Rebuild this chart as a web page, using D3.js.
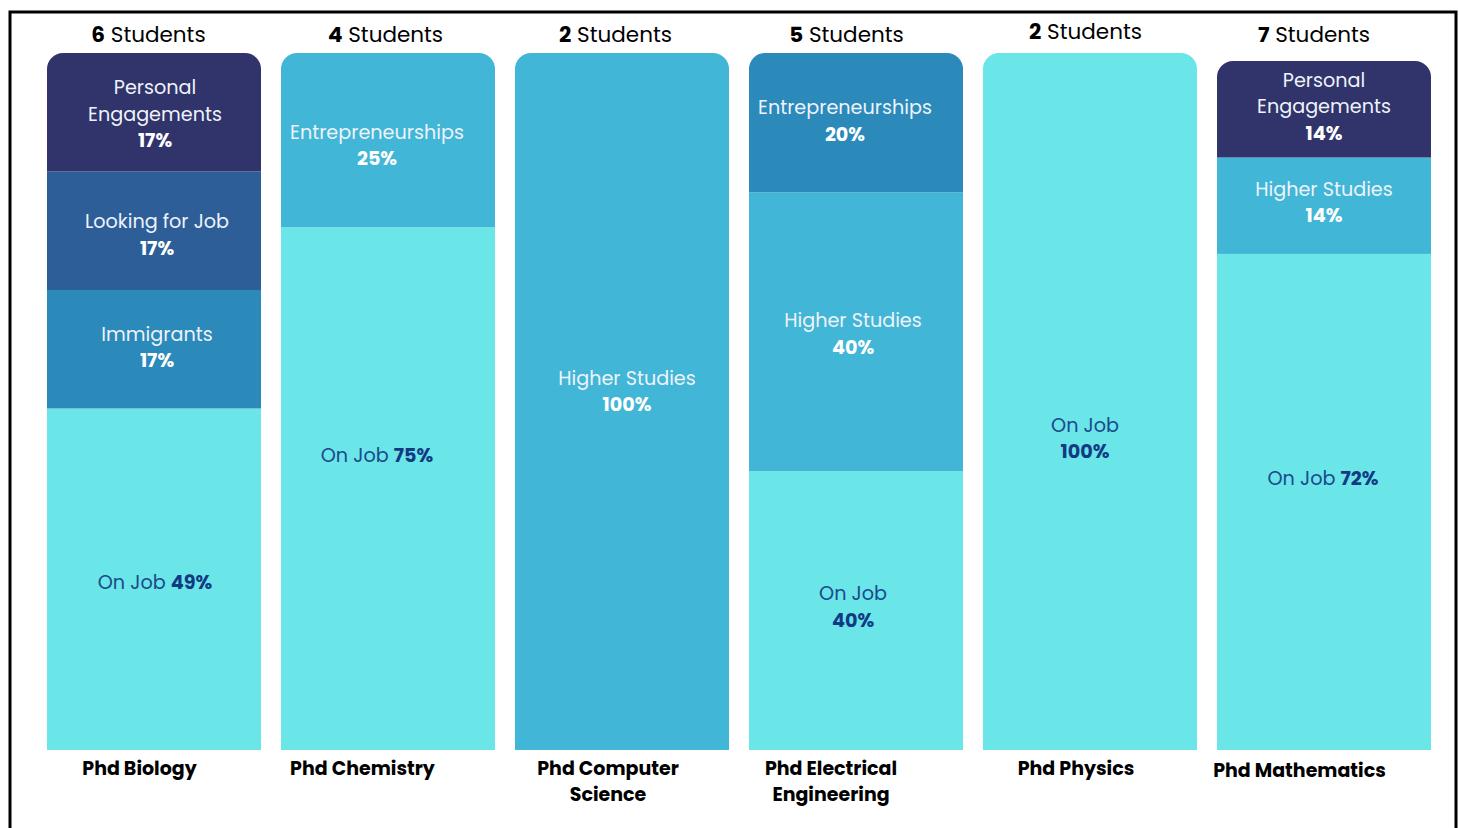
<!DOCTYPE html>
<html><head><meta charset="utf-8">
<script src="https://cdn.jsdelivr.net/npm/d3@7"></script>
<style>
html,body{margin:0;padding:0;background:#fff;}
svg{display:block;font-family:"Poppins","Open Sans","Noto Sans",sans-serif;}
</style></head>
<body>
<svg id="chart" width="1459" height="828"></svg>
<script>
// ---- data ----
const categories = ["Phd Biology", "Phd Chemistry", "Phd Computer Science", "Phd Electrical Engineering", "Phd Physics", "Phd Mathematics"];
const categoryLines = [["Phd Biology"], ["Phd Chemistry"], ["Phd Computer", "Science"], ["Phd Electrical", "Engineering"], ["Phd Physics"], ["Phd Mathematics"]];
const students = [6, 4, 2, 5, 2, 7];
const segmentKeys = ["On Job", "Higher Studies", "Entrepreneurships", "Immigrants", "Looking for Job", "Personal Engagements"];
const onJob = [49, 75, 0, 40, 100, 72];
const higherStudies = [0, 0, 100, 40, 0, 14];
const entrepreneurships = [0, 25, 0, 20, 0, 0];
const immigrants = [17, 0, 0, 0, 0, 0];
const lookingForJob = [17, 0, 0, 0, 0, 0];
const personalEngagements = [17, 0, 0, 0, 0, 14];
const seriesValues = {"On Job": onJob, "Higher Studies": higherStudies, "Entrepreneurships": entrepreneurships,
  "Immigrants": immigrants, "Looking for Job": lookingForJob, "Personal Engagements": personalEngagements};

// ---- styles ----
const palette = {"On Job": "#6ae5e8", "Higher Studies": "#42b6d6", "Entrepreneurships": "#42b6d6",
  "Immigrants": "#2b8aba", "Looking for Job": "#2d5e97", "Personal Engagements": "#31346a"};
const colorOverride = {"Phd Electrical Engineering|Entrepreneurships": "#2b8aba"};
const nameLines = {"Personal Engagements": ["Personal", "Engagements"]};
const onJobTwoLines = {"Phd Electrical Engineering": true, "Phd Physics": true};
const barTopInset = {"Phd Mathematics": 8};
const labelNudge = {
  "Phd Biology|Personal Engagements": [1, 2], "Phd Biology|Looking for Job": [3, 4],
  "Phd Biology|Immigrants": [3, -2], "Phd Biology|On Job": [1, 3],
  "Phd Chemistry|Entrepreneurships": [-11, 5], "Phd Chemistry|On Job": [-11, -33],
  "Phd Computer Science|Higher Studies": [5, -10],
  "Phd Electrical Engineering|Entrepreneurships": [-11, -2], "Phd Electrical Engineering|Higher Studies": [-3, 2],
  "Phd Electrical Engineering|On Job": [-3, -4],
  "Phd Physics|On Job": [-5, 37],
  "Phd Mathematics|Personal Engagements": [0, -2.5], "Phd Mathematics|Higher Studies": [0, -3.5],
  "Phd Mathematics|On Job": [-1, -24]
};
const studentNudge = [[-5.5, 0], [-2.5, 0], [-6.5, 0], [-9.5, 0], [-4.5, -3], [-10, 0]];
const categoryNudge = [[-14.5, 0], [-25.5, 0], [-14, 0], [-25, 0], [-14, 0], [-24.5, 2]];

const table = categories.map((c, i) => {
  const row = {category: c};
  segmentKeys.forEach(k => row[k] = seriesValues[k][i]);
  return row;
});

const svg = d3.select("#chart");
const x = d3.scaleBand().domain(categories).range([47, 1431]).paddingInner(20 / 234).paddingOuter(0);
const yBase = d3.scaleLinear().domain([0, 100]).range([750, 53]);
const yFor = c => yBase.copy().range([750, 53 + (barTopInset[c] || 0)]);
const stacked = d3.stack().keys(segmentKeys)(table);

// frame
svg.append("path").attr("d", "M10,840 L10,12 L1456,12 L1456,840")
  .attr("fill", "none").attr("stroke", "#000").attr("stroke-width", 3);

const defs = svg.append("defs");
categories.forEach((c, i) => {
  const y = yFor(c);
  defs.append("clipPath").attr("id", "clip" + i).append("rect")
    .attr("x", x(c)).attr("y", y(100)).attr("width", x.bandwidth())
    .attr("height", y(0) - y(100) + 30).attr("rx", 16).attr("ry", 16);
});

const bars = svg.append("g");
stacked.forEach(layer => {
  layer.forEach((d, i) => {
    if (d[1] - d[0] <= 0) return;
    const c = categories[i];
    const y = yFor(c);
    bars.append("rect").attr("clip-path", `url(#clip${i})`)
      .attr("x", x(c)).attr("width", x.bandwidth())
      .attr("y", y(d[1])).attr("height", y(d[0]) - y(d[1]))
      .attr("fill", colorOverride[c + "|" + layer.key] || palette[layer.key]);
  });
});

// segment labels
const labels = svg.append("g").attr("text-anchor", "middle");
const lineH = 26.5;
const fs = 19.2;
stacked.forEach(layer => {
  layer.forEach((d, i) => {
    const v = d[1] - d[0];
    if (v <= 0) return;
    const c = categories[i];
    const y = yFor(c);
    const nudge = labelNudge[c + "|" + layer.key] || [0, 0];
    const cx = x(c) + x.bandwidth() / 2 + nudge[0];
    const cy = (y(d[0]) + y(d[1])) / 2 + nudge[1];
    const isJob = layer.key === "On Job";
    const nameColor = isJob ? "#1b4a8c" : "#eef3fb";
    const pctColor = isJob ? "#113a83" : "#ffffff";
    if (isJob && !onJobTwoLines[c]) {
      const t = labels.append("text").attr("x", cx).attr("y", cy).attr("dy", "0.35em")
        .attr("font-size", fs);
      t.append("tspan").attr("fill", nameColor).text("On Job ");
      t.append("tspan").attr("fill", pctColor).attr("font-weight", 700).text(v + "%");
      return;
    }
    const lines = (nameLines[layer.key] || [layer.key]);
    const n = lines.length + 1;
    const y0 = cy - (n - 1) * lineH / 2;
    lines.forEach((ln, j) => {
      labels.append("text").attr("x", cx).attr("y", y0 + j * lineH).attr("dy", "0.35em")
        .attr("font-size", fs).attr("fill", nameColor).text(ln);
    });
    labels.append("text").attr("x", cx).attr("y", y0 + lines.length * lineH).attr("dy", "0.35em")
      .attr("font-size", fs).attr("font-weight", 700).attr("fill", pctColor).text(v + "%");
  });
});

// student counts
categories.forEach((c, i) => {
  const t = svg.append("text").attr("x", x(c) + x.bandwidth() / 2 + studentNudge[i][0])
    .attr("y", 34 + studentNudge[i][1]).attr("dy", "0.35em")
    .attr("text-anchor", "middle").attr("font-size", 21.5).attr("fill", "#000");
  t.append("tspan").attr("font-weight", 700).text(students[i]);
  t.append("tspan").text(" Students");
});

// category labels
categories.forEach((c, i) => {
  categoryLines[i].forEach((ln, j) => {
    svg.append("text").attr("x", x(c) + x.bandwidth() / 2 + categoryNudge[i][0])
      .attr("y", 768 + categoryNudge[i][1] + j * 26).attr("dy", "0.35em")
      .attr("text-anchor", "middle").attr("font-size", 19).attr("font-weight", 700).attr("fill", "#000").text(ln);
  });
});
</script>
</body></html>
